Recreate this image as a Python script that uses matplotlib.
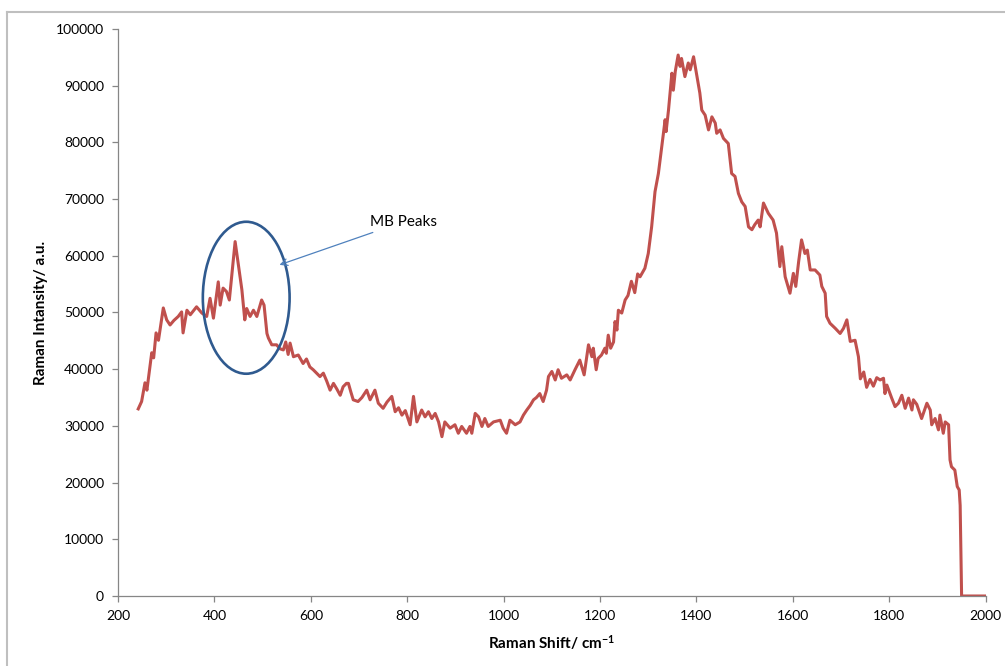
import matplotlib
matplotlib.use('Agg')
import matplotlib.pyplot as plt
from matplotlib.lines import Line2D
from matplotlib.patches import Ellipse

# Raman spectrum
SHIFT = [242, 249, 256, 260, 270, 274, 279, 284, 294, 301, 308, 316, 325, 332,
         335, 343, 350, 363, 374, 384, 391, 398, 408, 412, 418, 425, 431, 443,
         457, 463, 467, 474, 481, 488, 498, 503, 509, 512, 519, 529, 536, 543,
         548, 553, 557, 564, 574, 584, 591, 598, 605, 612, 619, 626, 633, 640,
         647, 654, 661, 667, 674, 678, 683, 688, 698, 706, 716, 723, 733, 740,
         750, 758, 768, 775, 782, 789, 796, 806, 813, 820, 830, 837, 844, 851,
         858, 865, 872, 878, 889, 899, 906, 913, 923, 930, 934, 941, 948, 955,
         961, 968, 979, 993, 999, 1006, 1013, 1024, 1034, 1041, 1048, 1055,
         1062, 1068, 1075, 1082, 1089, 1093, 1100, 1107, 1113, 1120, 1131, 1138,
         1148, 1158, 1167, 1176, 1183, 1186, 1192, 1196, 1203, 1210, 1213, 1217,
         1222, 1228, 1231, 1235, 1238, 1245, 1252, 1258, 1265, 1272, 1278, 1283,
         1293, 1300, 1307, 1314, 1321, 1328, 1335, 1337, 1342, 1349, 1352, 1356,
         1362, 1366, 1369, 1376, 1383, 1387, 1394, 1401, 1407, 1411, 1418, 1425,
         1432, 1439, 1442, 1449, 1456, 1466, 1473, 1480, 1487, 1494, 1501, 1508,
         1515, 1521, 1528, 1532, 1539, 1549, 1559, 1566, 1573, 1577, 1584, 1594,
         1601, 1606, 1612, 1618, 1625, 1630, 1636, 1646, 1656, 1660, 1667, 1670,
         1677, 1688, 1698, 1705, 1712, 1719, 1729, 1736, 1740, 1747, 1753, 1760,
         1767, 1774, 1781, 1788, 1791, 1795, 1805, 1812, 1819, 1826, 1833, 1840,
         1847, 1850, 1857, 1867, 1878, 1885, 1888, 1895, 1902, 1905, 1912, 1916,
         1923, 1926, 1929, 1936, 1941, 1945, 1947, 1950, 2000]
INTENSITY = [33000, 34300, 37600, 36300, 42900, 42000, 46400, 45100, 50800,
             48700, 47800, 48600, 49300, 50100, 46400, 50400, 49600, 51000,
             49900, 49300, 52500, 49000, 55400, 51300, 54300, 53700, 52200,
             62500, 54000, 48700, 50700, 49300, 50400, 49300, 52200, 51300,
             46300, 45500, 44300, 44300, 43600, 43400, 44800, 42600, 44600,
             42200, 42500, 41000, 41800, 40400, 39900, 39300, 38700, 39300,
             37900, 36300, 37500, 36500, 35400, 36900, 37500, 37500, 36000,
             34600, 34300, 35000, 36300, 34600, 36300, 34000, 33100, 34200,
             35200, 32500, 33200, 31900, 32700, 30200, 35200, 30700, 32800,
             31600, 32500, 31300, 32200, 30700, 28100, 30700, 29600, 30200,
             28700, 29900, 28700, 29900, 28700, 32200, 31600, 29900, 31300,
             29900, 30700, 31000, 29600, 28700, 31000, 30200, 30700, 31900,
             32800, 33600, 34600, 35000, 35700, 34300, 36300, 38700, 39600,
             38100, 39900, 38400, 39000, 38100, 39900, 41600, 39000, 44300,
             42200, 43700, 39900, 41900, 42500, 43700, 42800, 46000, 43700,
             44800, 48400, 46900, 50400, 49900, 52200, 53000, 55500, 53500,
             56800, 56300, 57800, 60400, 65100, 71300, 74500, 79200, 84000,
             81900, 85700, 92200, 89200, 92500, 95400, 93400, 94800, 91600,
             94000, 92800, 95100, 91600, 88700, 85700, 84800, 82200, 84500,
             83400, 81600, 82200, 80700, 79800, 74500, 74000, 71000, 69500,
             68700, 65100, 64600, 65500, 66300, 65100, 69300, 67500, 66300,
             64000, 58100, 61600, 56300, 53400, 56900, 54600, 59000, 62800,
             60400, 61000, 57500, 57500, 56600, 54600, 53400, 49300, 48100,
             47200, 46300, 47200, 48700, 44900, 45100, 42200, 38300, 39500,
             36800, 38200, 37000, 38500, 38100, 38400, 35700, 37200, 34900,
             33400, 34000, 35400, 33100, 34900, 32800, 34600, 33800, 31300,
             34000, 32800, 30200, 31300, 29300, 31900, 28700, 30700, 30200,
             24000, 22800, 22200, 19300, 18700, 16000, 0, 0]

X_TICKS = list(range(200, 2001, 200))
Y_TICKS = list(range(0, 100001, 10000))

LINE_RED = '#C0504D'
AXIS_GREY = '#868686'

plt.rcParams['font.family'] = ['Lato', 'DejaVu Sans']
plt.rcParams['mathtext.default'] = 'regular'

fig = plt.figure(figsize=(10.05, 6.66), dpi=100)
ax = fig.add_axes([0.1174, 0.1051, 0.8634, 0.8514])

# outer chart frame: only its left and top edges fall inside the picture
frame_x = 7 / 1005
frame_y = 1 - 12 / 666
fig.add_artist(Line2D([frame_x, frame_x], [0, frame_y], transform=fig.transFigure,
                      color='#BFBFBF', linewidth=1.5))
fig.add_artist(Line2D([frame_x, 1], [frame_y, frame_y], transform=fig.transFigure,
                      color='#BFBFBF', linewidth=1.5))

ax.plot(SHIFT, INTENSITY, color=LINE_RED, linewidth=2.2)

ax.set_xlim(200, 2000)
ax.set_ylim(0, 100000)
ax.set_xticks(X_TICKS)
ax.set_yticks(Y_TICKS)
ax.set_xticklabels([str(t) for t in X_TICKS])
ax.set_yticklabels([str(t) for t in Y_TICKS])

for side in ('top', 'right'):
    ax.spines[side].set_visible(False)
for side in ('left', 'bottom'):
    ax.spines[side].set_color(AXIS_GREY)
    ax.spines[side].set_linewidth(0.9)
ax.tick_params(direction='out', length=4, width=0.9, color=AXIS_GREY,
               labelsize=10, labelcolor='black', pad=6)

ax.set_xlabel('Raman Shift/ cm$^{-1}$', fontsize=11, fontweight='bold', labelpad=8)
ax.set_ylabel('Raman Intansity/ a.u.', fontsize=11, fontweight='bold', labelpad=6)

# MB peaks marker
ax.add_patch(Ellipse((466, 52600), 180, 26800, fill=False,
                     edgecolor='#2F5A8F', linewidth=1.9, zorder=3))
ax.annotate('MB Peaks', xy=(535, 58400), xytext=(723, 66000),
            fontsize=11, va='center', ha='left',
            arrowprops=dict(arrowstyle='->', color='#4F81BD', lw=0.9,
                            shrinkA=2, shrinkB=0, mutation_scale=12))

fig.savefig('out.png', dpi=100)
